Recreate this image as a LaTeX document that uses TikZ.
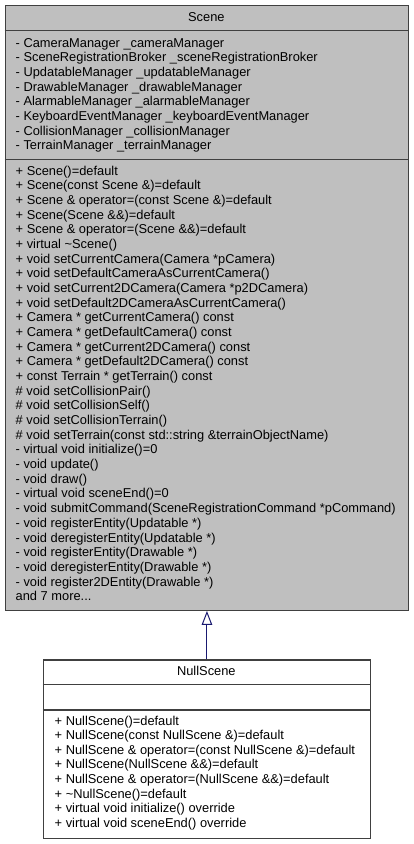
\documentclass[tikz,border=0pt]{standalone}
\usepackage{fontspec}
\setmainfont{Liberation Sans}
\usetikzlibrary{arrows.meta}
\definecolor{boxline}{HTML}{404040}
\definecolor{scenefill}{HTML}{BFBFBF}
\definecolor{edgeblue}{HTML}{191970}
\tikzset{
  classbox/.style={draw=boxline, line width=1.2pt, anchor=north west, inner sep=0pt},
  sepline/.style={draw=boxline, line width=1.2pt},
  member/.style={anchor=base west, inner sep=0pt, font=\fontsize{12.85}{14.7}\selectfont},
  classtitle/.style={anchor=base, inner sep=0pt, font=\fontsize{12.85}{14.7}\selectfont},
  inherit/.style={draw=edgeblue, line width=1pt, -{Triangle[open, length=14pt, width=10.5pt]}},
}
\begin{document}
\begin{tikzpicture}[x=1pt,y=-1pt]
\useasboundingbox (0,0) rectangle (413,844);
% Scene class
\node[classbox, fill=scenefill, minimum width=403.3pt, minimum height=604.7pt] (scene) at (4.7,5) {};
\draw[sepline] (4.7,30.7) -- (408,30.7);
\draw[sepline] (4.7,159.5) -- (408,159.5);
\node[classtitle] (scenetitle) at (206.35,21.3) {Scene};
\foreach \t [count=\i from 0] in {
  {- CameraManager \_cameraManager},
  {- SceneRegistrationBroker \_sceneRegistrationBroker},
  {- UpdatableManager \_updatableManager},
  {- DrawableManager \_drawableManager},
  {- AlarmableManager \_alarmableManager},
  {- KeyboardEventManager \_keyboardEventManager},
  {- CollisionManager \_collisionManager},
  {- TerrainManager \_terrainManager}}
  \node[member] (attr\i) at (15.5,{47.3+14.67*\i}) {\t};
\foreach \t [count=\i from 0] in {
  {+ Scene()=default},
  {+ Scene(const Scene \&)=default},
  {+ Scene \& operator=(const Scene \&)=default},
  {+ Scene(Scene \&\&)=default},
  {+ Scene \& operator=(Scene \&\&)=default},
  {+ virtual \textasciitilde{}Scene()},
  {+ void setCurrentCamera(Camera *pCamera)},
  {+ void setDefaultCameraAsCurrentCamera()},
  {+ void setCurrent2DCamera(Camera *p2DCamera)},
  {+ void setDefault2DCameraAsCurrentCamera()},
  {+ Camera * getCurrentCamera() const},
  {+ Camera * getDefaultCamera() const},
  {+ Camera * getCurrent2DCamera() const},
  {+ Camera * getDefault2DCamera() const},
  {+ const Terrain * getTerrain() const},
  {\# void setCollisionPair()},
  {\# void setCollisionSelf()},
  {\# void setCollisionTerrain()},
  {\# void setTerrain(const std::string \&terrainObjectName)},
  {- virtual void initialize()=0},
  {- void update()},
  {- void draw()},
  {- virtual void sceneEnd()=0},
  {- void submitCommand(SceneRegistrationCommand *pCommand)},
  {- void registerEntity(Updatable *)},
  {- void deregisterEntity(Updatable *)},
  {- void registerEntity(Drawable *)},
  {- void deregisterEntity(Drawable *)},
  {- void register2DEntity(Drawable *)},
  {and 7 more.{}.{}.}}
  \node[member] (meth\i) at (15.5,{175+14.68*\i}) {\t};
% NullScene class
\node[classbox, fill=white, minimum width=327.3pt, minimum height=178.4pt] (nullscene) at (42.7,659.3) {};
\draw[sepline] (42.7,684.3) -- (370,684.3);
\draw[sepline] (42.7,710) -- (370,710);
\node[classtitle] (nulltitle) at (206.35,675) {NullScene};
\foreach \t [count=\i from 0] in {
  {+ NullScene()=default},
  {+ NullScene(const NullScene \&)=default},
  {+ NullScene \& operator=(const NullScene \&)=default},
  {+ NullScene(NullScene \&\&)=default},
  {+ NullScene \& operator=(NullScene \&\&)=default},
  {+ \textasciitilde{}NullScene()=default},
  {+ virtual void initialize() override},
  {+ virtual void sceneEnd() override}}
  \node[member] (nmeth\i) at (54.5,{725+14.62*\i}) {\t};
% inheritance
\draw[inherit] (nullscene.north) -- (scene.south);
\end{tikzpicture}
\end{document}
